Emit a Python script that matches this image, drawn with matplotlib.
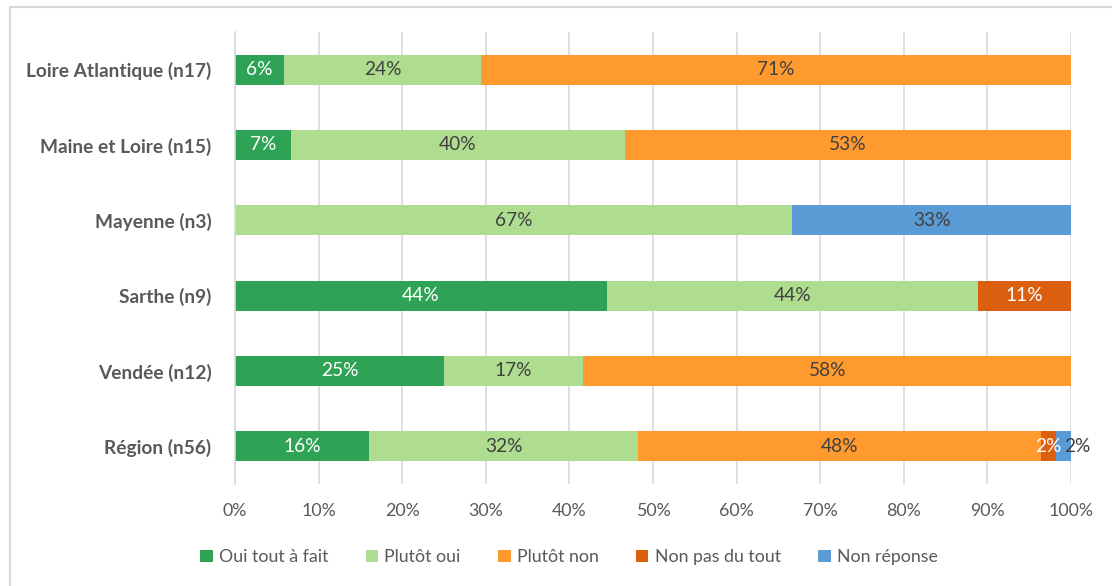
import matplotlib
matplotlib.use("Agg")
import matplotlib.pyplot as plt
import numpy as np
from matplotlib.lines import Line2D
from matplotlib.patches import Patch

plt.rcParams['font.family'] = ['Lato', 'DejaVu Sans']

# answers per department (counts), top to bottom
departements = ['Loire Atlantique (n17)', 'Maine et Loire (n15)', 'Mayenne (n3)',
                'Sarthe (n9)', 'Vendée (n12)', 'Région (n56)']
effectifs = [17, 15, 3, 9, 12, 56]

reponses = ['Oui tout à fait', 'Plutôt oui', 'Plutôt non', 'Non pas du tout', 'Non réponse']
oui_tout_a_fait = [1, 1, 0, 4, 3, 9]
plutot_oui = [4, 6, 2, 4, 2, 18]
plutot_non = [12, 8, 0, 0, 7, 27]
non_pas_du_tout = [0, 0, 0, 1, 0, 1]
non_reponse = [0, 0, 1, 0, 0, 1]

couleurs = ['#2ea355', '#aedd8f', '#ff9a2e', '#dc5f10', '#5b9bd5']
couleurs_texte = ['white', '#404040', '#404040', 'white', '#404040']

series = [oui_tout_a_fait, plutot_oui, plutot_non, non_pas_du_tout, non_reponse]
n = np.array(effectifs, dtype=float)

fig = plt.figure(figsize=(11.12, 5.86), dpi=100)
ax = fig.add_axes([235 / 1112, 1 - 484 / 586, 836 / 1112, 452 / 586])

y = np.arange(len(departements))
left = np.zeros(len(departements))
for serie, lab, col, tcol in zip(series, reponses, couleurs, couleurs_texte):
    vals = np.array(serie) / n * 100
    ax.barh(y, vals, left=left, height=0.4, color=col, label=lab, zorder=2)
    for i, v in enumerate(vals):
        if v <= 0:
            continue
        xc = left[i] + v / 2
        dx = 0
        # last small segment of the region bar: label pushed to the right
        if lab == 'Non réponse' and v < 5:
            dx = 1.7
        ax.text(xc + dx, y[i], f'{v:.0f}%', ha='center', va='center',
                fontsize=13.8, color=tcol, zorder=3)
    left += vals

ax.set_xlim(0, 100)
ax.set_ylim(len(departements) - 0.5, -0.5)
ax.set_yticks(y)
ax.set_yticklabels(departements, fontsize=13.8, fontweight='bold', color='#595959')
ax.set_xticks(np.arange(0, 101, 10))
ax.set_xticklabels([f'{t}%' for t in range(0, 101, 10)], fontsize=12.8, color='#595959')
ax.tick_params(axis='both', length=0)
ax.tick_params(axis='y', pad=17)
ax.tick_params(axis='x', pad=14)
ax.grid(axis='x', color='#d9d9d9', linewidth=1.2, zorder=0)
for s in ['top', 'right', 'bottom']:
    ax.spines[s].set_visible(False)
ax.spines['left'].set_color('#d9d9d9')
ax.spines['left'].set_linewidth(1.2)

handles = [Patch(facecolor=c, edgecolor='none') for c in couleurs]
fig.legend(handles, reponses, loc='center', bbox_to_anchor=(569 / 1112, 1 - 557 / 586),
           ncol=5, frameon=False, fontsize=12.8, handlelength=0.7, handleheight=0.7,
           handletextpad=0.35, columnspacing=2.1, labelcolor='#595959')

# chart area border (top and left edges)
fig.add_artist(Line2D([10 / 1112, 10 / 1112], [0, 1 - 7 / 586], color='#d9d9d9',
                      linewidth=1.5, transform=fig.transFigure))
fig.add_artist(Line2D([10 / 1112, 1], [1 - 7 / 586, 1 - 7 / 586], color='#d9d9d9',
                      linewidth=1.5, transform=fig.transFigure))

fig.savefig('out.png', dpi=100)
